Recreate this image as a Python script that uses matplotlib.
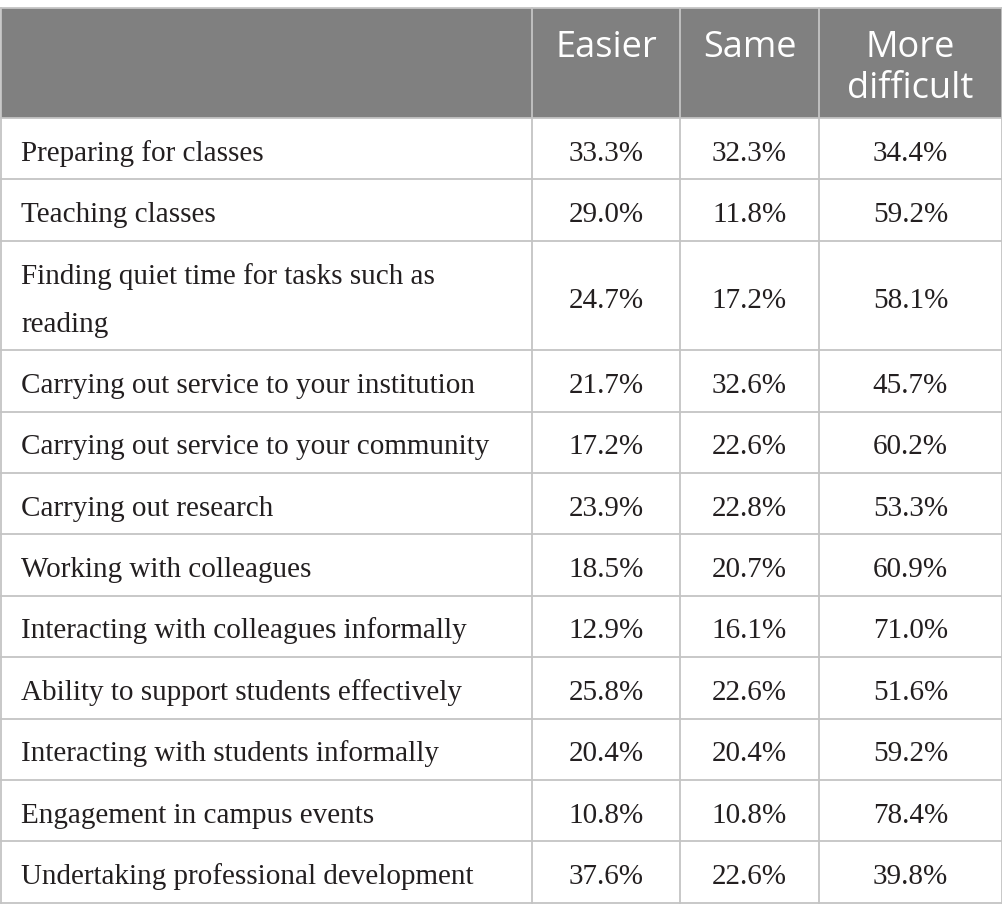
import matplotlib
matplotlib.use("Agg")
import matplotlib.pyplot as plt
from matplotlib.patches import Rectangle

# table content
columns = ["Easier", "Same", "More\ndifficult"]
activities = [
    "Preparing for classes",
    "Teaching classes",
    "Finding quiet time for tasks such as\nreading",
    "Carrying out service to your institution",
    "Carrying out service to your community",
    "Carrying out research",
    "Working with colleagues",
    "Interacting with colleagues informally",
    "Ability to support students effectively",
    "Interacting with students informally",
    "Engagement in campus events",
    "Undertaking professional development",
]
easier = [33.3, 29.0, 24.7, 21.7, 17.2, 23.9, 18.5, 12.9, 25.8, 20.4, 10.8, 37.6]
same = [32.3, 11.8, 17.2, 32.6, 22.6, 22.8, 20.7, 16.1, 22.6, 20.4, 10.8, 22.6]
more_difficult = [34.4, 59.2, 58.1, 45.7, 60.2, 53.3, 60.9, 71.0, 51.6, 59.2, 78.4, 39.8]

W, H = 1003, 924
fig = plt.figure(figsize=(W / 100, H / 100), dpi=100)
ax = fig.add_axes([0, 0, 1, 1])
ax.set_xlim(0, W)
ax.set_ylim(H, 0)
ax.axis("off")

col_x = [1, 532, 680, 819, 1002]
top, head_h = 8, 110
line_h = 48
row_h = [61.4 + line_h * (a.count("\n")) for a in activities]
line_col = "#c4c4c4"
txt_col = "#231f20"
serif = "Liberation Serif"
sans = "Open Sans"

# header band
ax.add_patch(Rectangle((col_x[0], top), col_x[-1] - col_x[0], head_h,
                       facecolor="#808080", edgecolor="none"))
for j, name in enumerate(columns):
    cx = (col_x[j + 1] + col_x[j + 2]) / 2
    for k, part in enumerate(name.split("\n")):
        ax.text(cx, 57 + k * 41, part, ha="center", va="baseline",
                color="white", fontsize=26, family=sans)

# body rows
vals = list(zip(easier, same, more_difficult))
y = top + head_h
for label, h, row in zip(activities, row_h, vals):
    parts = label.split("\n")
    y0 = y + (h - (len(parts) - 1) * line_h) / 2 + 12
    for k, part in enumerate(parts):
        ax.text(21, y0 + k * line_h, part, ha="left", va="baseline",
                fontsize=21, family=serif, color=txt_col)
    for j, v in enumerate(row):
        cx = (col_x[j + 1] + col_x[j + 2]) / 2
        ax.text(cx, y + h / 2 + 12, f"{v:.1f}%", ha="center", va="baseline",
                fontsize=21, family=serif, color=txt_col)
    y += h
    ax.plot([col_x[0], col_x[-1]], [y, y], color=line_col, lw=1.3)
bottom = y

# grid lines
ax.plot([col_x[0], col_x[-1]], [top, top], color=line_col, lw=1.3)
ax.plot([col_x[0], col_x[-1]], [top + head_h, top + head_h], color=line_col, lw=1.3)
for x in col_x:
    ax.plot([x, x], [top, bottom], color=line_col, lw=1.3)

fig.savefig("out.png", dpi=100)
